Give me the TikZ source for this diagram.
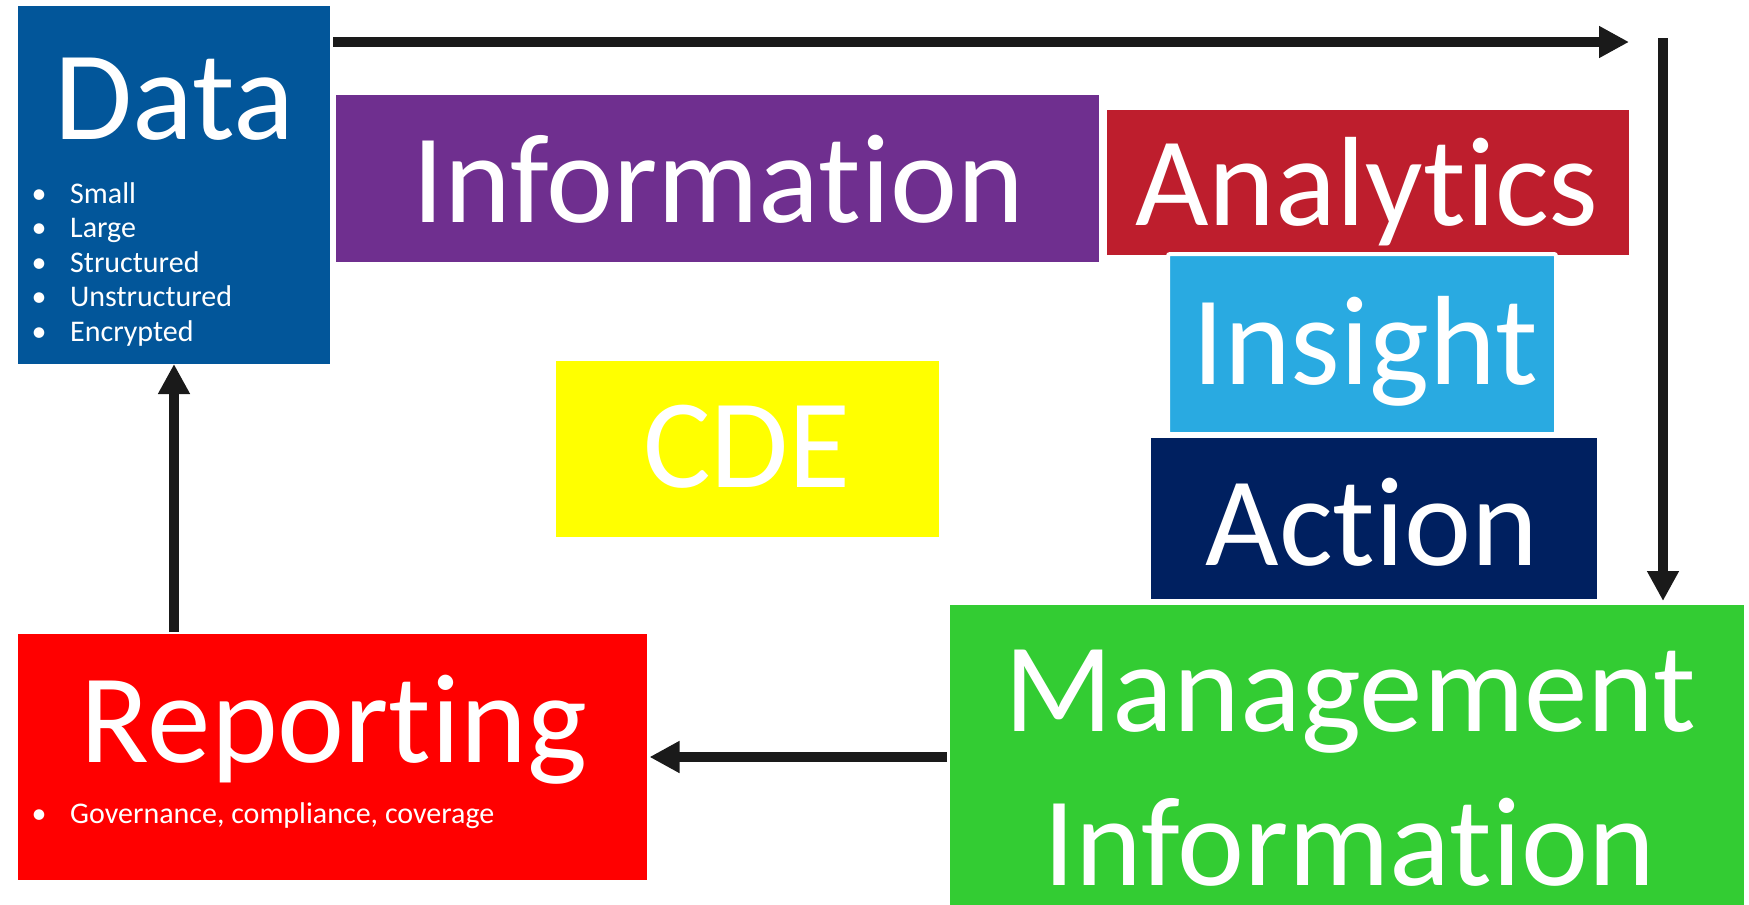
\documentclass[tikz,border=0pt]{standalone}
\usepackage{fontspec}
\setmainfont{Carlito}[Ligatures=NoCommon]
\usetikzlibrary{arrows.meta}
\tikzset{>={Triangle[length=30pt,width=30pt]}}
\definecolor{datablue}{HTML}{02569A}
\definecolor{infopurple}{HTML}{6F2F8F}
\definecolor{analyticsred}{HTML}{BE1E2D}
\definecolor{insightblue}{HTML}{29AAE1}
\definecolor{actionnavy}{HTML}{002060}
\definecolor{mgmtgreen}{HTML}{33CC33}
\definecolor{cdeyellow}{HTML}{FFFF00}
\definecolor{reportred}{HTML}{FF0000}
\definecolor{arrowgrey}{HTML}{1A1A1A}

\begin{document}
\begin{tikzpicture}[x=1pt,y=-1pt,
	box/.style={rectangle,inner sep=0pt,outer sep=0pt,anchor=north west},
	title/.style={text=white,inner sep=0pt,anchor=base,font=\fontsize{127}{152}\selectfont},
	item/.style={text=white,inner sep=0pt,anchor=base west,font=\fontsize{30}{34.5}\selectfont},
	flow/.style={->,line width=10pt,color=arrowgrey}]
	\useasboundingbox[fill=white] (0,0) rectangle (1749,905);

	% boxes
	\node[box,fill=datablue,minimum width=312pt,minimum height=358pt] (data) at (18,6) {};
	\node[box,fill=infopurple,minimum width=763pt,minimum height=167pt] (info) at (336,95) {};
	\node[box,fill=analyticsred,minimum width=522pt,minimum height=145pt] (analytics) at (1107,110) {};
	\node[box,fill=insightblue,draw=white,line width=4pt,rounded corners=2pt,minimum width=388pt,minimum height=180pt] (insight) at (1168,254) {};
	\node[box,fill=actionnavy,minimum width=446pt,minimum height=161pt] (action) at (1151,438) {};
	\node[box,fill=cdeyellow,minimum width=383pt,minimum height=176pt] (cde) at (556,361) {};
	\node[box,fill=mgmtgreen,minimum width=794pt,minimum height=300pt] (mgmt) at (950,605) {};
	\node[box,fill=reportred,minimum width=629pt,minimum height=246pt] (reporting) at (18,634) {};

	% titles
	\node[title] (datatitle) at (174.5,139) {Data};
	\node[title] (infotitle) at (718,222) {Information};
	\node[title] (analyticstitle) at (1367,225) {Analytics};
	\node[title] (insighttitle) at (1365,384) {Insight};
	\node[title] (actiontitle) at (1372,565) {Action};
	\node[title] (cdetitle) at (747,487) {CDE};
	\node[title] (mgmttitle) at (1350,731) {Management};
	\node[title,text depth=0pt] (mgmttitleb) at (1349,885) {Information};
	\node[title] (reporttitle) at (334,762) {Reporting};

	% bullet points
	\foreach \t [count=\i] in {Small,Large,Structured,Unstructured,Encrypted}
		\node[item] (item\i) at (31.5,{168.5+34.5*\i}) {\makebox[15pt][c]{•}\hspace{23.5pt}\t};
	\node[item] (reportitem) at (31.5,823) {\makebox[15pt][c]{•}\hspace{23.5pt}Governance, compliance, coverage};

	% cycle arrows
	\coordinate (topstart) at (333,42);
	\coordinate (topend) at (1629,42);
	\coordinate (rightstart) at (1663,38);
	\draw[flow] (topstart) -- (topend);
	\draw[flow,shorten >=4pt] (rightstart) -- (rightstart |- mgmt.north);
	\draw[flow,shorten <=3pt,shorten >=2.5pt] (reporting.east -| mgmt.west) -- (reporting.east);
	\draw[flow,shorten <=2pt] (reporting.north -| data.south) -- (data.south);
\end{tikzpicture}
\end{document}
